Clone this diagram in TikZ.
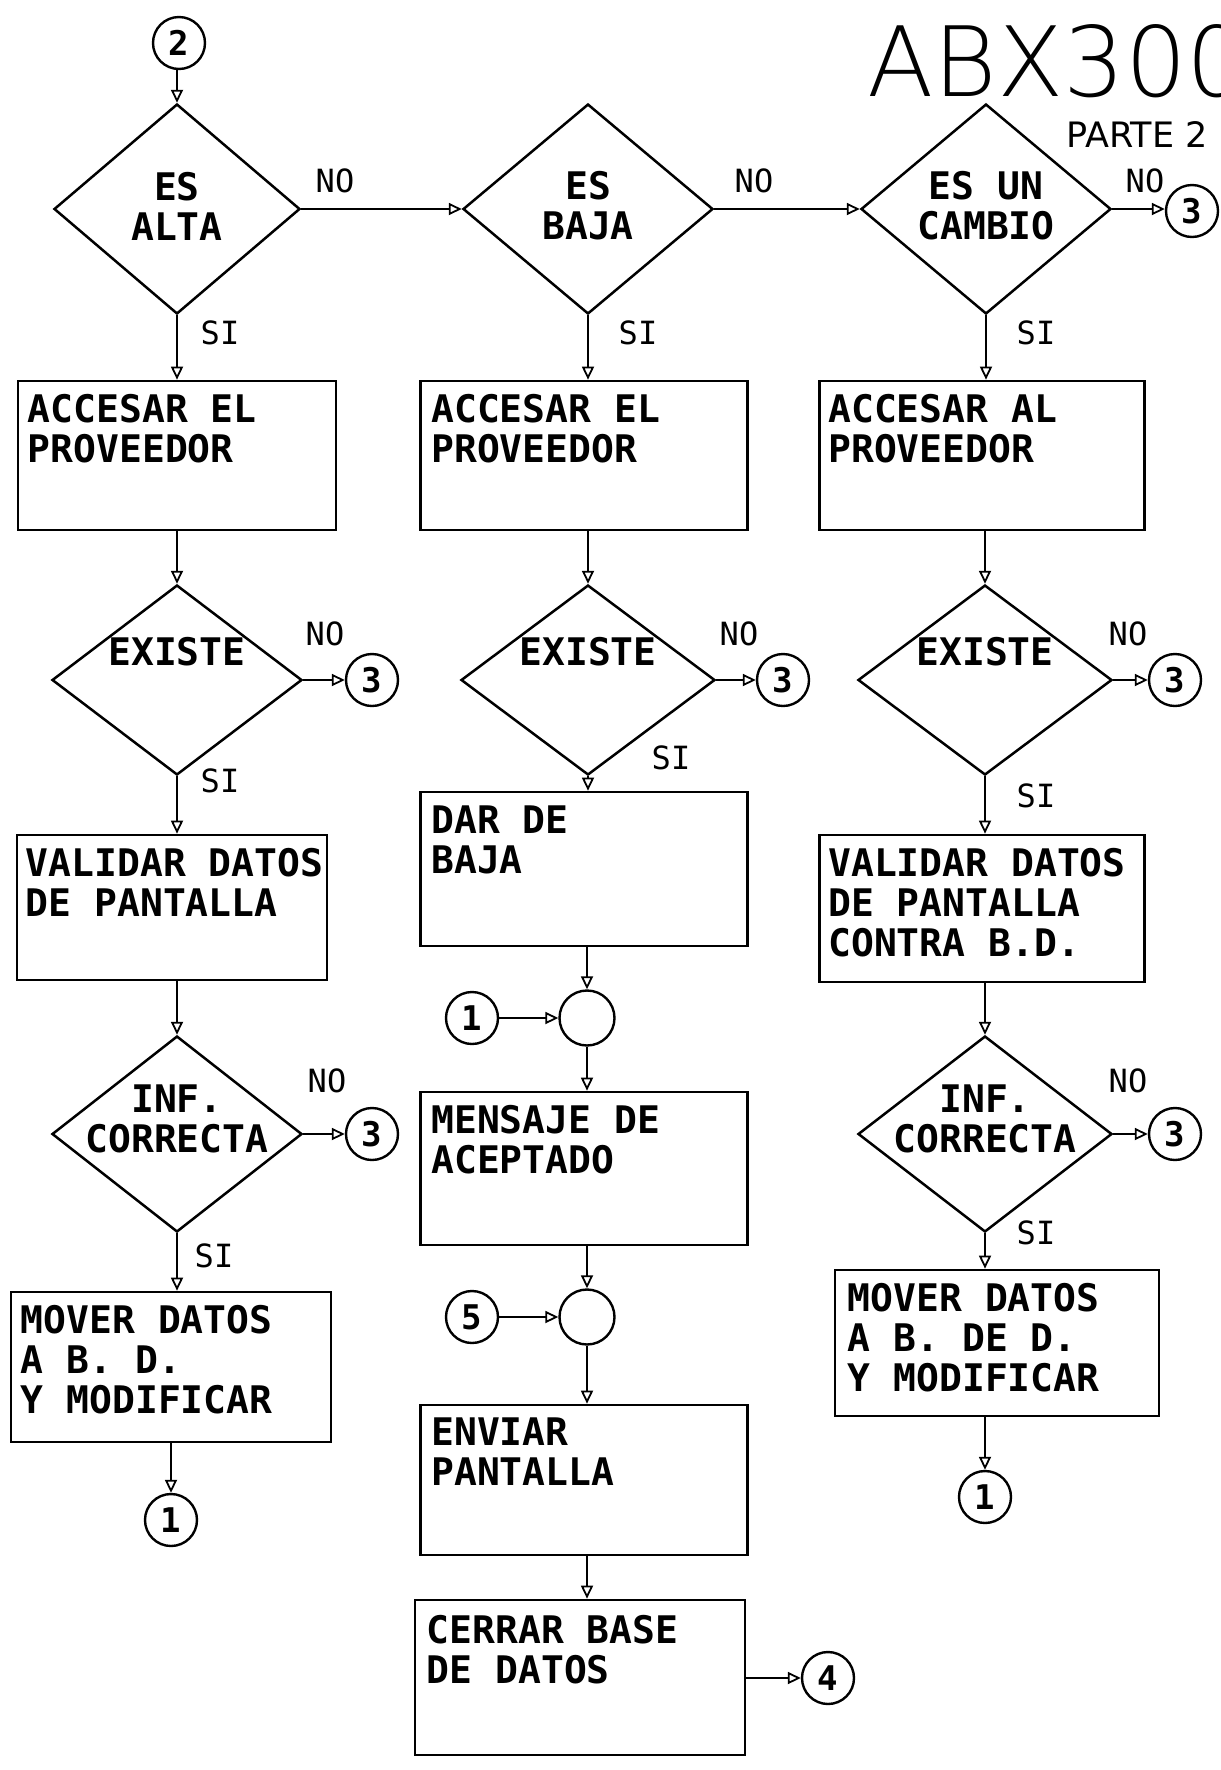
\documentclass[tikz,border=0pt]{standalone}
\usepackage{fontspec}
\setmainfont{DejaVu Sans Mono}
\newfontfamily\sansreg{DejaVu Sans}
\newfontfamily\thinfont{DejaVu Sans ExtraLight}
\usetikzlibrary{arrows.meta,shapes.geometric,calc}
\tikzset{
  conn/.style={line width=2.4pt, -{Triangle[open,length=13pt,width=12pt,line width=1.8pt]}},
  dia/.style={diamond, draw, line width=2.5pt, inner sep=0pt},
  procbox/.style={rectangle, draw, line width=2.7pt, inner sep=0pt},
  boxtxt/.style={anchor=north west, inner sep=0pt, align=left, font=\fontsize{38}{40}\selectfont\bfseries},
  dtxt/.style={inner sep=0pt, align=center, font=\fontsize{38}{40}\selectfont\bfseries},
  ctr/.style={circle, draw, line width=2.4pt, minimum size=52pt, inner sep=0pt, font=\fontsize{34}{34}\selectfont\bfseries},
  junc/.style={circle, draw, line width=2.4pt, minimum size=55pt, inner sep=0pt},
  lab/.style={inner sep=0pt, font=\fontsize{32}{32}\selectfont},
}
\begin{document}
\begin{tikzpicture}[x=1pt,y=-1pt]
\useasboundingbox (0,0) rectangle (1221,1770);
\fill[white] (0,0) rectangle (1221,1770);

% title
\node[anchor=base west, inner sep=0pt, font=\thinfont\fontsize{97}{97}\selectfont] (title) at (867,96) {ABX300};
\node[anchor=base west, inner sep=0pt, font=\sansreg\fontsize{35}{35}\selectfont] (parte) at (1066,147) {PARTE 2};

% ---------- row 1 ----------
\node[ctr] (c2) at (179,43) {2};
\node[dia, minimum width=246pt, minimum height=210pt] (d1) at (177,209) {};
\node[dtxt] (d1t) at (177,206) {ES\\ALTA};
\node[dia, minimum width=250pt, minimum height=210pt] (d2) at (588,209) {};
\node[dtxt] (d2t) at (588,206) {ES\\BAJA};
\node[dia, minimum width=250pt, minimum height=210pt] (d3) at (986,209) {};
\node[dtxt] (d3t) at (986,206) {ES UN\\CAMBIO};
\node[ctr] (n3a) at (1192,211) {3};

\node[procbox, minimum width=318pt, minimum height=149pt] (b1) at (177,455.5) {};
\node[boxtxt] (b1t) at ($(b1.north west)+(11,14)$) {ACCESAR EL\\PROVEEDOR};
\node[procbox, minimum width=327pt, minimum height=149pt] (b2) at (584,455.5) {};
\node[boxtxt] (b2t) at ($(b2.north west)+(12,14)$) {ACCESAR EL\\PROVEEDOR};
\node[procbox, minimum width=325pt, minimum height=149pt] (b3) at (982,455.5) {};
\node[boxtxt] (b3t) at ($(b3.north west)+(10,14)$) {ACCESAR AL\\PROVEEDOR};

% ---------- row 2 ----------
\node[dia, minimum width=250pt, minimum height=190pt] (e1) at (177,680) {};
\node[dtxt] (e1t) at (177,652) {EXISTE};
\node[dia, minimum width=254pt, minimum height=190pt] (e2) at (588,680) {};
\node[dtxt] (e2t) at (588,652) {EXISTE};
\node[dia, minimum width=254pt, minimum height=190pt] (e3) at (985,680) {};
\node[dtxt] (e3t) at (985,652) {EXISTE};
\node[ctr] (n3b) at (372,680) {3};
\node[ctr] (n3c) at (783,680) {3};
\node[ctr] (n3d) at (1175,680) {3};

\node[procbox, minimum width=310pt, minimum height=145pt] (v1) at (172,907.5) {};
\node[boxtxt] (v1t) at ($(v1.north west)+(10,14)$) {VALIDAR DATOS\\DE PANTALLA};
\node[procbox, minimum width=327pt, minimum height=154pt] (bj) at (584,869) {};
\node[boxtxt] (bjt) at ($(bj.north west)+(12,15)$) {DAR DE\\BAJA};
\node[procbox, minimum width=325pt, minimum height=147pt] (v3) at (982,908.5) {};
\node[boxtxt] (v3t) at ($(v3.north west)+(10,14)$) {VALIDAR DATOS\\DE PANTALLA\\CONTRA B.D.};

% ---------- row 3 ----------
\node[dia, minimum width=250pt, minimum height=196pt] (f1) at (177,1134) {};
\node[dtxt] (f1t) at (177,1119) {INF.\\CORRECTA};
\node[dia, minimum width=254pt, minimum height=196pt] (f3) at (985,1134) {};
\node[dtxt] (f3t) at (985,1119) {INF.\\CORRECTA};
\node[ctr] (n3e) at (372,1134) {3};
\node[ctr] (n3f) at (1175,1134) {3};

\node[procbox, minimum width=320pt, minimum height=150pt] (m1) at (171,1367) {};
\node[boxtxt] (m1t) at ($(m1.north west)+(11,14)$) {MOVER DATOS\\A B. D.\\Y MODIFICAR};
\node[procbox, minimum width=324pt, minimum height=146pt] (m3) at (997,1343) {};
\node[boxtxt] (m3t) at ($(m3.north west)+(14,14)$) {MOVER DATOS\\A B. DE D.\\Y MODIFICAR};
\node[ctr] (o1) at (171,1520) {1};
\node[ctr] (o3) at (985,1497) {1};

% ---------- column 2 lower ----------
\node[junc] (j1) at (587,1018) {};
\node[ctr] (o2) at (472,1018) {1};
\node[procbox, minimum width=327pt, minimum height=153pt] (msg) at (584,1168.5) {};
\node[boxtxt] (msgt) at ($(msg.north west)+(12,14)$) {MENSAJE DE\\ACEPTADO};
\node[junc] (j2) at (587,1317) {};
\node[ctr] (o5) at (472,1317) {5};
\node[procbox, minimum width=327pt, minimum height=150pt] (env) at (584,1480) {};
\node[boxtxt] (envt) at ($(env.north west)+(12,14)$) {ENVIAR\\PANTALLA};
\node[procbox, minimum width=330pt, minimum height=155pt] (cer) at (580,1677.5) {};
\node[boxtxt] (cert) at ($(cer.north west)+(13,16)$) {CERRAR BASE\\DE DATOS};
\node[ctr] (o4) at (828,1678) {4};

% ---------- connectors ----------
\draw[conn] (c2.south -| d1.north) -- (d1.north);
\draw[conn] (d1.east) -- (d2.west);
\draw[conn] (d2.east) -- (d3.west);
\draw[conn] (d3.east) -- (d3.east -| n3a.west);
\draw[conn] (d1.south) -- (d1.south |- b1.north);
\draw[conn] (d2.south) -- (d2.south |- b2.north);
\draw[conn] (d3.south) -- (d3.south |- b3.north);
\draw[conn] (e1.north |- b1.south) -- (e1.north);
\draw[conn] (e2.north |- b2.south) -- (e2.north);
\draw[conn] (e3.north |- b3.south) -- (e3.north);
\draw[conn] (e1.east) -- (n3b.west);
\draw[conn] (e2.east) -- (n3c.west);
\draw[conn] (e3.east) -- (n3d.west);
\draw[conn] (e1.south) -- (e1.south |- v1.north);
\draw[conn] (e2.south) -- (e2.south |- bj.north);
\draw[conn] (e3.south) -- (e3.south |- v3.north);
\draw[conn] (f1.north |- v1.south) -- (f1.north);
\draw[conn] (f3.north |- v3.south) -- (f3.north);
\draw[conn] (f1.east) -- (n3e.west);
\draw[conn] (f3.east) -- (n3f.west);
\draw[conn] (f1.south) -- (f1.south |- m1.north);
\draw[conn] (f3.south) -- (f3.south |- m3.north);
\draw[conn] (m1.south -| o1.north) -- (o1.north);
\draw[conn] (o3.north |- m3.south) -- (o3.north);
\draw[conn] (j1.north |- bj.south) -- (j1.north);
\draw[conn] (o2.east) -- (j1.west);
\draw[conn] (j1.south) -- (j1.south |- msg.north);
\draw[conn] (j2.north |- msg.south) -- (j2.north);
\draw[conn] (o5.east) -- (j2.west);
\draw[conn] (j2.south) -- (j2.south |- env.north);
\draw[conn] (j2.south |- env.south) -- (j2.south |- cer.north);
\draw[conn] (cer.east |- o4.west) -- (o4.west);

% ---------- labels ----------
\node[lab] (no1) at (335,181) {NO};
\node[lab] (no2) at (754,181) {NO};
\node[lab] (no3) at (1145,181) {NO};
\node[lab] (no4) at (325,634) {NO};
\node[lab] (no5) at (739,634) {NO};
\node[lab] (no6) at (1128,634) {NO};
\node[lab] (no7) at (327,1081) {NO};
\node[lab] (no8) at (1128,1081) {NO};
\node[lab] (si1) at (220,333) {SI};
\node[lab] (si2) at (638,333) {SI};
\node[lab] (si3) at (1036,333) {SI};
\node[lab] (si4) at (220,781) {SI};
\node[lab] (si5) at (671,758) {SI};
\node[lab] (si6) at (1036,796) {SI};
\node[lab] (si7) at (214,1256) {SI};
\node[lab] (si8) at (1036,1233) {SI};
\end{tikzpicture}
\end{document}
